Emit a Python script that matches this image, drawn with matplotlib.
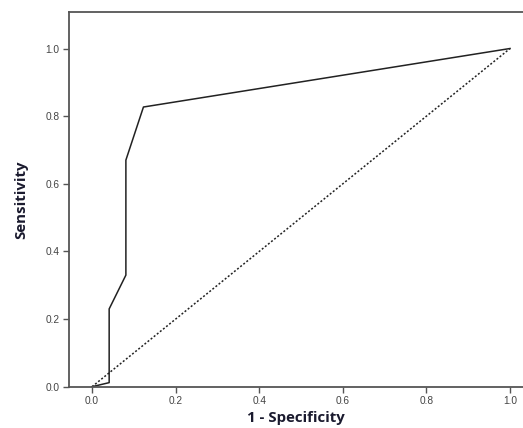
import matplotlib
matplotlib.use("Agg")
import matplotlib.pyplot as plt

fpr = [0.0, 0.041, 0.041, 0.081, 0.081, 0.123, 1.0]
tpr = [0.0, 0.012, 0.23, 0.33, 0.67, 0.827, 1.0]
ref = [0.0, 1.0]
ticks = [0.0, 0.2, 0.4, 0.6, 0.8, 1.0]
tick_labels = ["0.0", "0.2", "0.4", "0.6", "0.8", "1.0"]

fig = plt.figure(figsize=(5.23, 4.28), dpi=100)
ax = fig.add_axes([0.132, 0.0965, 0.868, 0.8755])
ax.plot(fpr, tpr, color="#222222", lw=1.1)
ax.plot(ref, ref, color="#222222", lw=1.1, linestyle=(0, (1.3, 1.3)))
ax.set_xlim(-0.055, 1.031)
ax.set_ylim(0, 1.108)
ax.set_xticks(ticks)
ax.set_xticklabels(tick_labels, family="Liberation Sans")
ax.set_yticks(ticks)
ax.set_yticklabels(tick_labels, family="Liberation Sans")
ax.spines["right"].set_visible(False)
for s in ["left", "top", "bottom"]:
    ax.spines[s].set_color("#555555")
    ax.spines[s].set_linewidth(1.3)
ax.tick_params(axis="both", direction="out", length=4, width=1, color="#555555",
               labelsize=7.3, labelcolor="#444444", pad=3)
ax.set_xlabel("1 - Specificity", fontsize=10.8, fontweight="bold", family="Open Sans",
              color="#1a1a2e", labelpad=3)
ax.set_ylabel("Sensitivity", fontsize=10.8, fontweight="bold", family="Open Sans",
              color="#1a1a2e", labelpad=12)
fig.savefig("out.png", dpi=100)
